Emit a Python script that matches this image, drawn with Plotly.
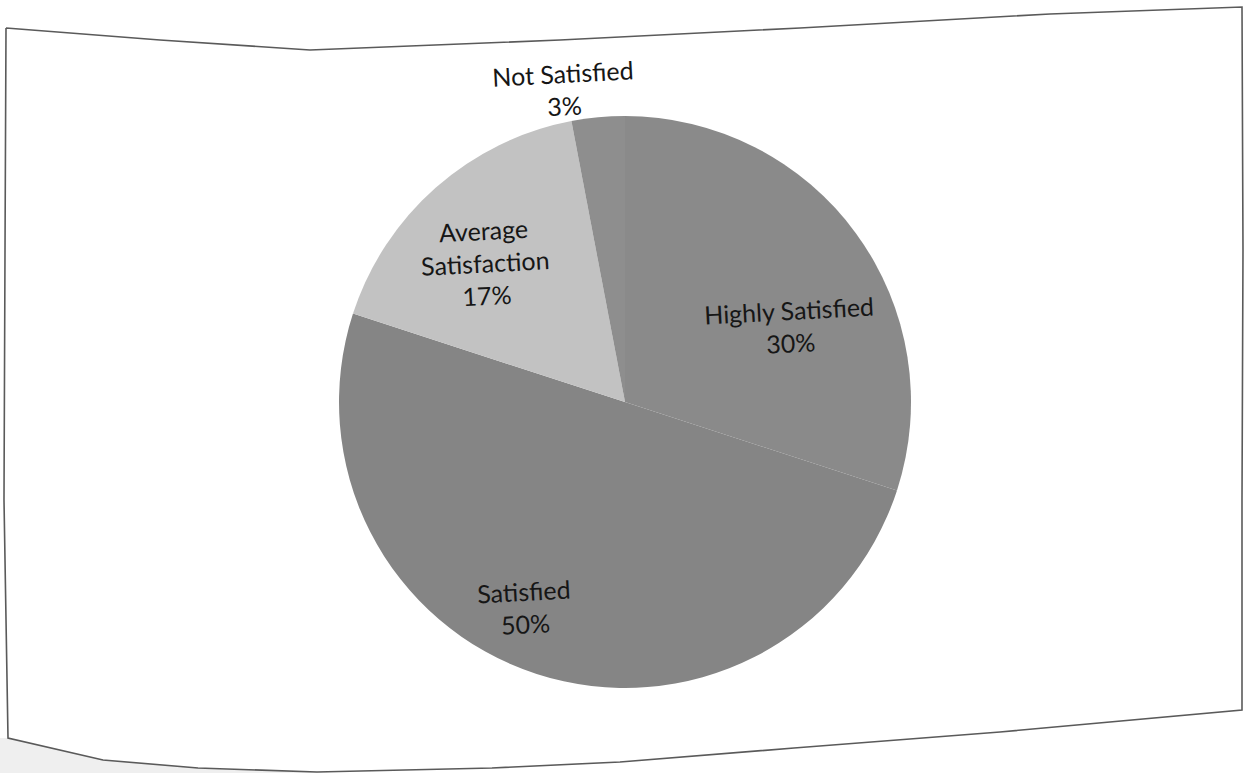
import math
import plotly.graph_objects as go

# Survey results: satisfaction levels
categories = ["Highly Satisfied", "Satisfied", "Average Satisfaction", "Not Satisfied"]
values = [30, 50, 17, 3]
label_text = ["Highly Satisfied", "Satisfied", "Average<br>Satisfaction", "Not Satisfied"]
slice_colors = ["#8a8a8a", "#858585", "#c2c2c2", "#8e8e8e"]

W, H = 1245, 773
CX, CY, R = 625, 402, 286  # pie centre and radius in pixels


def px(x, y):
    """Convert pixel coordinates to paper coordinates."""
    return x / W, 1 - y / H


x0, y1 = px(CX - R, CY - R)
x1, y0 = px(CX + R, CY + R)

fig = go.Figure(
    go.Pie(
        labels=categories,
        values=values,
        sort=False,
        direction="clockwise",
        rotation=0,
        marker=dict(colors=slice_colors, line=dict(width=0)),
        textinfo="none",
        hoverinfo="label+percent",
        showlegend=False,
        domain=dict(x=[x0, x1], y=[y0, y1]),
    )
)

# Data labels placed along each slice's mid-angle
label_radius = [0.635, 0.80, 0.69, 1.115]
label_turn = [11.6, 8, -3.6, -5.8]
total = sum(values)
annotations = []
start = 0.0
for name, v, rf, turn in zip(label_text, values, label_radius, label_turn):
    mid = (start + v / 2) / total * 360 + turn
    start += v
    a = math.radians(mid)
    lx = CX + rf * R * math.sin(a)
    ly = CY - rf * R * math.cos(a)
    ax, ay = px(lx, ly)
    pct = round(v / total * 100)
    annotations.append(
        dict(
            x=ax, y=ay, xref="paper", yref="paper",
            text=f"{name}<br>{pct}%",
            showarrow=False, textangle=-3,
            font=dict(family="Lato, Open Sans, sans-serif", size=25, color="#161616"),
            xanchor="center", yanchor="middle",
        )
    )


def path(points):
    pts = [px(x, y) for x, y in points]
    return "M " + " L ".join(f"{x:.5f},{y:.5f}" for x, y in pts)


# Outline of the sheet
outline = [
    (6, 28), (160, 40), (310, 50), (560, 40), (800, 28), (1050, 14), (1242, 7),
    (1243, 250), (1242, 500), (1242, 710),
    (1000, 732), (794, 748), (620, 762), (492, 768), (317, 772), (198, 768),
    (103, 760), (8, 738), (4, 500), (5, 250), (6, 28),
]
shadow = [(8, 738), (103, 760), (198, 768), (317, 772), (330, 773), (0, 773), (0, 738), (8, 738)]

shapes = [
    dict(type="path", xref="paper", yref="paper", path=path(shadow) + " Z",
         fillcolor="rgba(120,120,120,0.12)", line=dict(width=0), layer="below"),
    dict(type="path", xref="paper", yref="paper", path=path(outline),
         line=dict(color="#5a5a5a", width=1.6), layer="above"),
]

fig.update_layout(
    width=W, height=H,
    margin=dict(l=0, r=0, t=0, b=0),
    paper_bgcolor="white",
    plot_bgcolor="white",
    annotations=annotations,
    shapes=shapes,
)

fig.write_html("out.html")
